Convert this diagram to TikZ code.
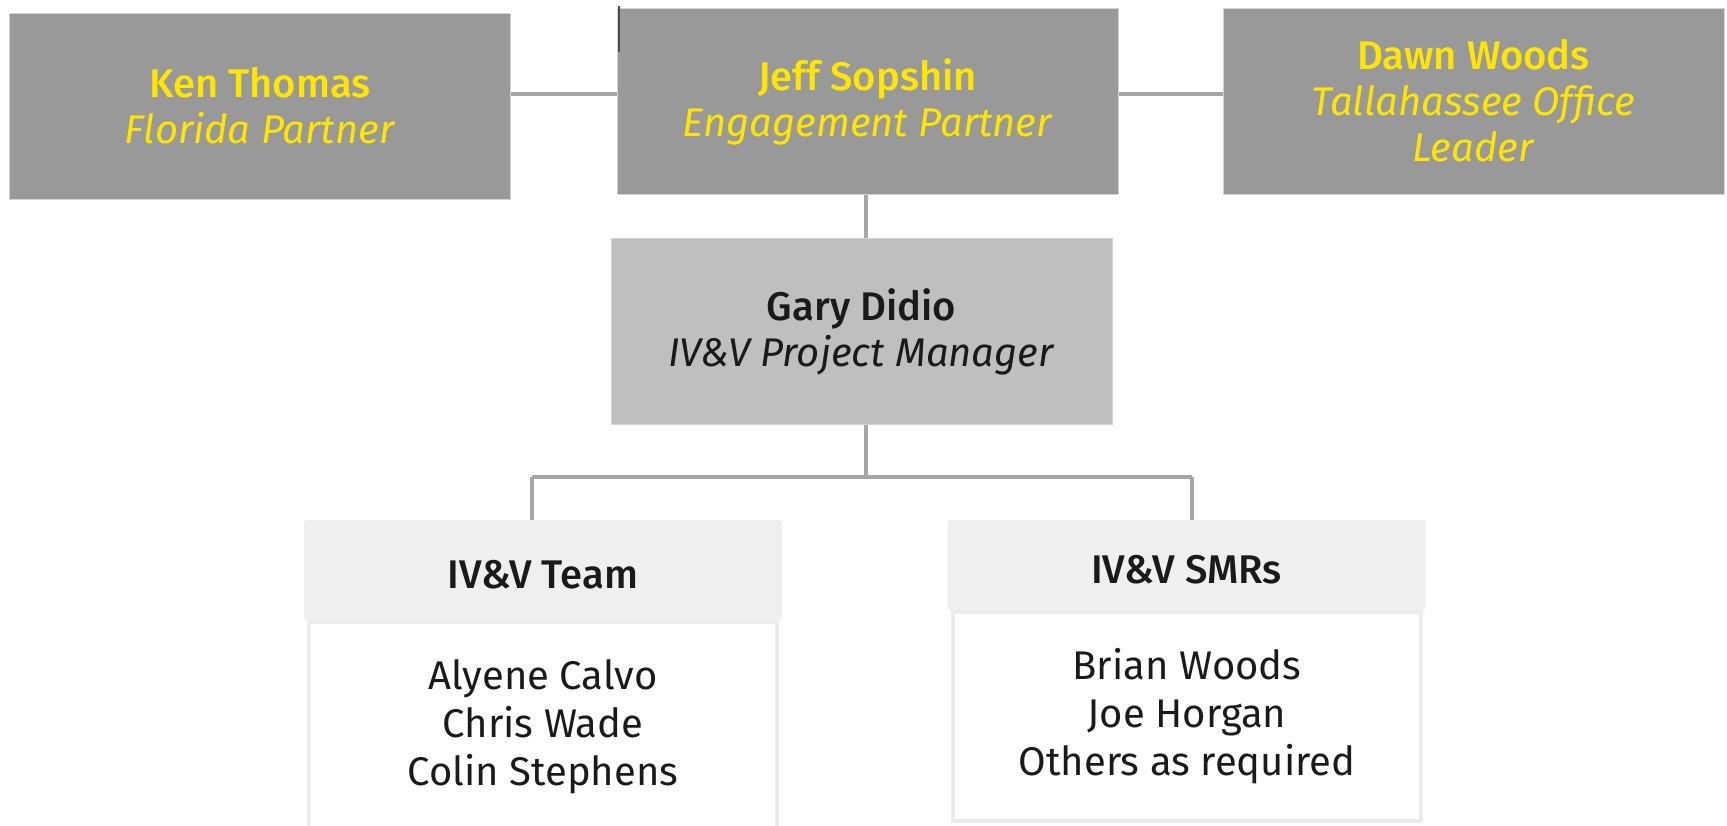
\documentclass[tikz,border=0pt]{standalone}
\usepackage{fontspec}
\setmainfont{Fira Sans}[BoldFont={Fira Sans Medium}]
\definecolor{eyYellow}{HTML}{FFE600}
\definecolor{partnerGray}{HTML}{999999}
\definecolor{mgrGray}{HTML}{BFBFBF}
\definecolor{headGray}{HTML}{EFEFEF}
\definecolor{bodyEdge}{HTML}{ECECEC}
\definecolor{boxEdge}{HTML}{D4D4D4}
\definecolor{linkGray}{HTML}{A6A6A6}
\definecolor{inkBlack}{HTML}{1A1A1A}
\newcommand{\orgFont}{\fontsize{20pt}{23pt}\selectfont}
\newcommand{\listFont}{\fontsize{20pt}{24pt}\selectfont}
\begin{document}
\begin{tikzpicture}[x=0.5pt,y=-0.5pt,
    orgBox/.style={rectangle,draw=boxEdge,line width=0.5pt,inner sep=0pt,align=center,minimum width=250.5pt,minimum height=93pt,font=\orgFont},
    partnerBox/.style={orgBox,fill=partnerGray,text=eyYellow},
    mgrBox/.style={orgBox,fill=mgrGray,text=inkBlack},
    groupHead/.style={rectangle,fill=headGray,rounded corners=1.5pt,inner sep=0pt,minimum width=239pt,text height=18pt,text depth=0pt,font=\orgFont\bfseries,text=inkBlack},
    groupBody/.style={rectangle,draw=bodyEdge,line width=2pt,fill=white,inner sep=0pt,align=center,minimum width=234pt,font=\listFont,text=inkBlack},
    orgLink/.style={draw=linkGray,line width=1.75pt},
]
\useasboundingbox (0,0) rectangle (1727,825);
% Partners
\node[partnerBox] (ken) at (260,106) {\textbf{Ken Thomas}\\\textit{Florida Partner}};
\node[partnerBox] (jeff) at (867.5,101.5) {\textbf{Jeff Sopshin}\\\textit{Engagement Partner}};
\node[partnerBox] (dawn) at (1473.5,101) {\textbf{Dawn Woods}\\\textit{Tallahassee Office}\\\textit{Leader}};
\node[mgrBox] (gary) at (861.5,331.5) {\textbf{Gary Didio}\\\textit{IV\&V Project Manager}};
% Teams
\node[groupBody,minimum height=105pt] (teamBody) at (543,727) {Alyene Calvo\\Chris Wade\\Colin Stephens};
\node[groupHead,minimum height=50pt] (teamHead) at (543,570) {IV\&V Team};
\node[groupBody,minimum height=104.5pt] (smrBody) at (1187,716.5) {Brian Woods\\Joe Horgan\\Others as required};
\node[groupHead,minimum height=45pt] (smrHead) at (1186.5,565) {IV\&V SMRs};
% Links
\coordinate (topBus) at (0,94);
\coordinate (spine) at (866,0);
\coordinate (teamDrop) at (532,477);
\coordinate (smrDrop) at (1192,477);
\draw[orgLink] (ken.east |- topBus) -- (jeff.west |- topBus);
\draw[orgLink] (jeff.east |- topBus) -- (dawn.west |- topBus);
\draw[orgLink] (spine |- jeff.south) -- (spine |- gary.north);
\draw[orgLink] (spine |- gary.south) -- (spine |- teamDrop);
\draw[orgLink] (teamDrop) -- (smrDrop);
\draw[orgLink] (teamDrop) -- (teamDrop |- teamHead.north);
\draw[orgLink] (smrDrop) -- (smrDrop |- smrHead.north);
\draw[draw=black!70,line width=0.75pt] (619,6) -- (619,52);
\end{tikzpicture}
\end{document}
